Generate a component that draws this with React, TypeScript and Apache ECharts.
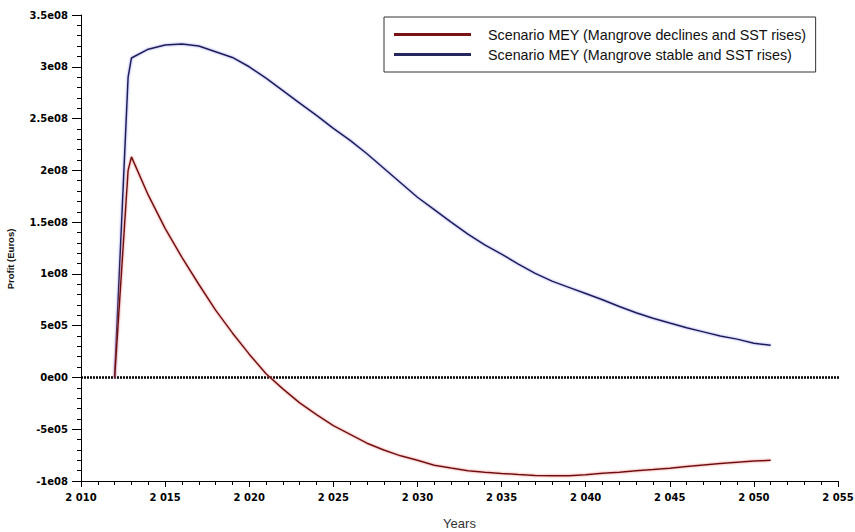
import React, { useEffect, useRef } from "react";
import * as echarts from "echarts";

// Simulated yearly profit (euros) under the two MEY scenarios
const rampYears = [2012, 2012.8];
const years = [
  2013, 2014, 2015, 2016, 2017, 2018, 2019, 2020, 2021, 2022, 2023, 2024, 2025,
  2026, 2027, 2028, 2029, 2030, 2031, 2032, 2033, 2034, 2035, 2036, 2037, 2038,
  2039, 2040, 2041, 2042, 2043, 2044, 2045, 2046, 2047, 2048, 2049, 2050, 2051,
];

const declinesRamp = [0, 2.0e8];
const declinesProfit = [
  2.13e8, 1.76e8, 1.44e8, 1.16e8, 0.9e8, 0.65e8, 0.43e8, 0.225e8, 0.036e8,
  -0.11e8, -0.245e8, -0.36e8, -0.465e8, -0.55e8, -0.635e8, -0.7e8, -0.757e8,
  -0.8e8, -0.847e8, -0.875e8, -0.9e8, -0.915e8, -0.927e8, -0.937e8, -0.946e8,
  -0.95e8, -0.95e8, -0.94e8, -0.926e8, -0.915e8, -0.9e8, -0.89e8, -0.876e8,
  -0.86e8, -0.845e8, -0.83e8, -0.818e8, -0.808e8, -0.8e8,
];

const stableRamp = [0, 2.9e8];
const stableProfit = [
  3.085e8, 3.17e8, 3.21e8, 3.22e8, 3.2e8, 3.145e8, 3.09e8, 3.0e8, 2.89e8,
  2.77e8, 2.65e8, 2.53e8, 2.405e8, 2.29e8, 2.16e8, 2.02e8, 1.88e8, 1.74e8,
  1.62e8, 1.5e8, 1.385e8, 1.28e8, 1.19e8, 1.095e8, 1.005e8, 0.93e8, 0.87e8,
  0.81e8, 0.75e8, 0.685e8, 0.625e8, 0.572e8, 0.525e8, 0.48e8, 0.44e8, 0.4e8,
  0.37e8, 0.33e8, 0.31e8,
];

// Dotted zero reference line
const zeroLineYears = [2010, 2055.5];

const seriesNames = [
  "Scenario MEY (Mangrove declines and SST rises)",
  "Scenario MEY (Mangrove stable and SST rises)",
];

const yMin = -1e8;
const yMax = 3.5e8;
const yStep = 0.5e8;
const yTickLabels = [
  "-1e08", "-5e05", "0e00", "5e05", "1e08", "1.5e08", "2e08", "2.5e08", "3e08", "3.5e08",
];

const xMin = 2010;
const xMax = 2055;
const xStep = 5;

const toPairs = (xs: number[], ys: number[]) => xs.map((x, i) => [x, ys[i]]);

const tickFont = {
  fontFamily: "DejaVu Sans",
  fontWeight: "bold" as const,
  fontSize: 10,
  color: "#000",
};

export default function App() {
  const ref = useRef<HTMLDivElement>(null);

  useEffect(() => {
    if (!ref.current) return;
    const chart = echarts.init(ref.current, null, { renderer: "svg" });

    const declinesData = [...toPairs(rampYears, declinesRamp), ...toPairs(years, declinesProfit)];
    const stableData = [...toPairs(rampYears, stableRamp), ...toPairs(years, stableProfit)];

    chart.setOption({
      animation: false,
      backgroundColor: "#fff",
      grid: {
        left: 81,
        right: 17,
        top: 15,
        bottom: 51,
        containLabel: false,
        outerBoundsMode: "none",
      },
      legend: {
        data: seriesNames,
        orient: "vertical",
        left: 384,
        top: 17,
        icon: "rect",
        itemWidth: 77,
        itemHeight: 3,
        itemGap: 5,
        padding: [10, 9, 10, 10],
        borderColor: "#333",
        borderWidth: 1,
        backgroundColor: "#fff",
        selectedMode: false,
        textStyle: {
          fontFamily: "Liberation Sans, Arial, sans-serif",
          fontSize: 14.3,
          color: "#111",
          lineHeight: 15,
          padding: [0, 0, 0, 12],
        },
      },
      xAxis: {
        type: "value",
        min: xMin,
        max: xMax,
        interval: xStep,
        name: "Years",
        nameLocation: "middle",
        nameGap: 36,
        nameTextStyle: {
          fontFamily: "Liberation Sans, Arial, sans-serif",
          fontSize: 13,
          color: "#333",
        },
        axisLine: { show: true, onZero: false, lineStyle: { color: "#000", width: 1 } },
        axisTick: { show: true, inside: false, length: 6, lineStyle: { color: "#000", width: 1 } },
        minorTick: { show: true, splitNumber: 5, length: 4, lineStyle: { color: "#000", width: 1 } },
        splitLine: { show: false },
        minorSplitLine: { show: false },
        axisLabel: {
          ...tickFont,
          margin: 11,
          formatter: (v: number) => {
            const s = String(Math.round(v));
            return s.slice(0, 1) + " " + s.slice(1);
          },
        },
      },
      yAxis: {
        type: "value",
        min: yMin,
        max: yMax,
        interval: yStep,
        name: "Profit (Euros)",
        nameLocation: "middle",
        nameRotate: 90,
        nameGap: 66,
        nameTextStyle: {
          fontFamily: "Liberation Sans, Arial, sans-serif",
          fontWeight: "bold",
          fontSize: 9.5,
          color: "#111",
          padding: [0, 22, 0, 0],
        },
        axisLine: { show: true, onZero: false, lineStyle: { color: "#000", width: 1 } },
        axisTick: { show: true, inside: false, length: 9, lineStyle: { color: "#000", width: 1 } },
        minorTick: { show: true, splitNumber: 5, length: 4, lineStyle: { color: "#000", width: 1 } },
        splitLine: { show: false },
        minorSplitLine: { show: false },
        axisLabel: {
          ...tickFont,
          margin: 13,
          formatter: (v: number) => yTickLabels[Math.round((v - yMin) / yStep)] ?? "",
        },
      },
      series: [
        {
          name: "zero",
          type: "line",
          data: zeroLineYears.map((x) => [x, 0]),
          symbol: "none",
          clip: false,
          silent: true,
          z: 1,
          lineStyle: { color: "#000", width: 2.5, type: [2, 1] },
        },
        {
          name: seriesNames[0],
          type: "line",
          data: declinesData,
          symbol: "none",
          z: 3,
          color: "#7a1414",
          lineStyle: {
            color: "#6e1010",
            width: 1.5,
            shadowColor: "rgba(235, 110, 110, 0.9)",
            shadowBlur: 2,
          },
        },
        {
          name: seriesNames[1],
          type: "line",
          data: stableData,
          symbol: "none",
          z: 2,
          color: "#26265e",
          lineStyle: {
            color: "#1a1a50",
            width: 1.5,
            shadowColor: "rgba(120, 120, 235, 0.85)",
            shadowBlur: 2,
          },
        },
      ],
    });

    return () => chart.dispose();
  }, []);

  return (
    <div
      ref={ref}
      style={{ position: "absolute", left: 0, top: 0, width: 855, height: 532 }}
    />
  );
}
